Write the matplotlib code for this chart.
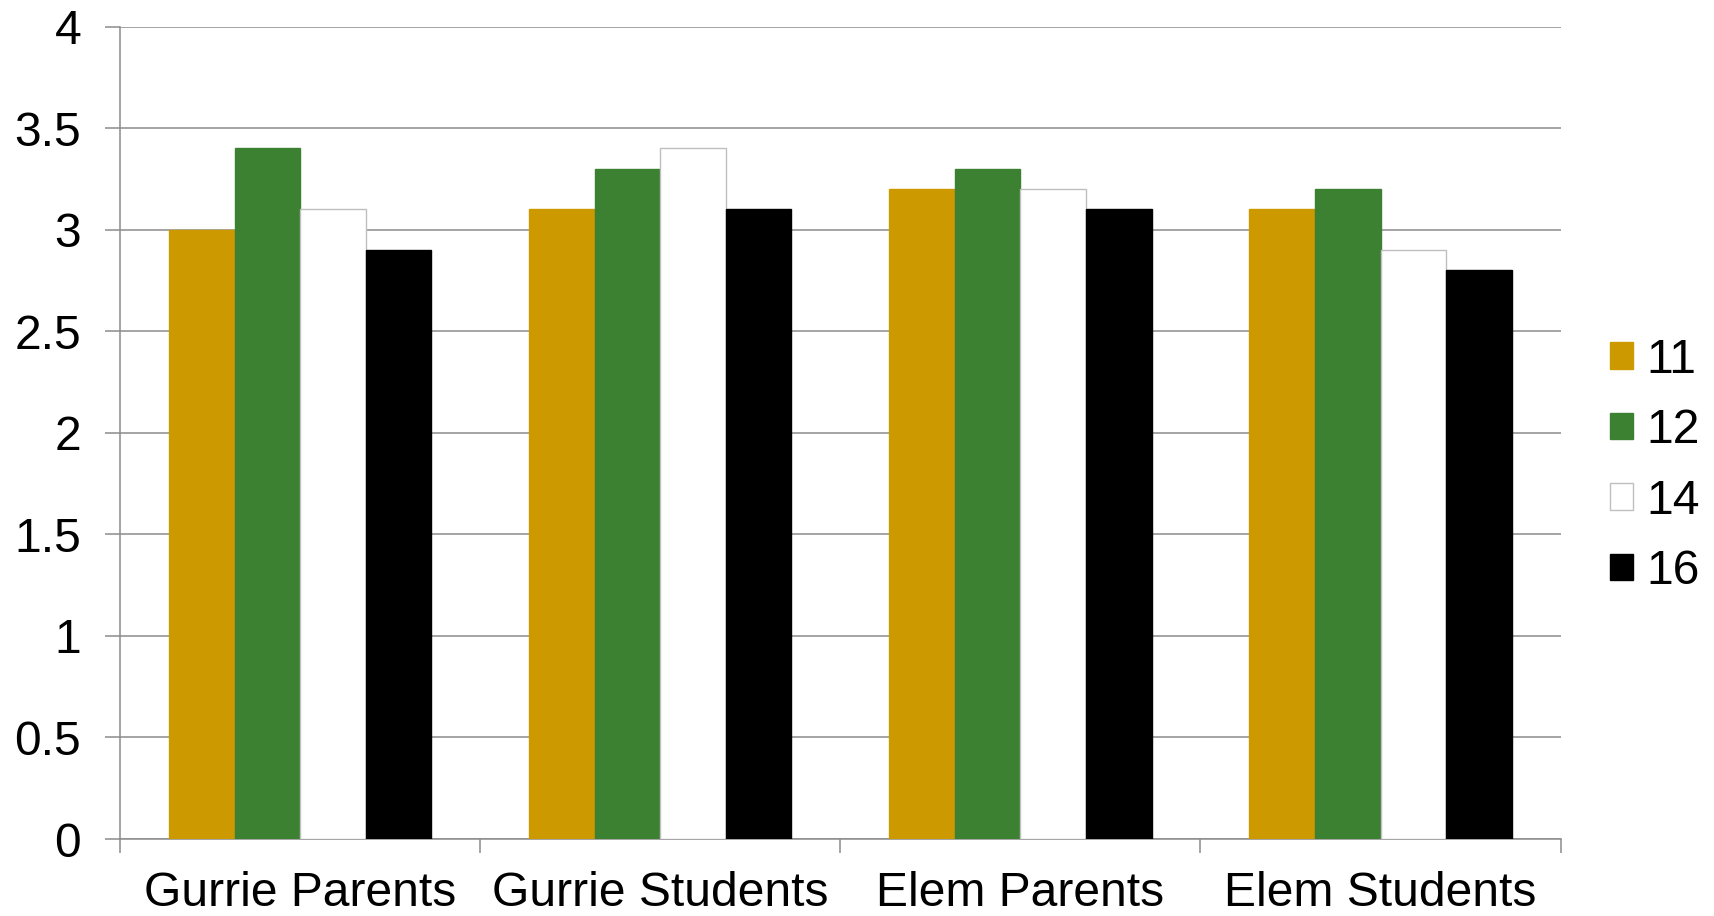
import matplotlib
matplotlib.use("Agg")
import matplotlib.pyplot as plt
import numpy as np

categories = ["Gurrie Parents", "Gurrie Students", "Elem Parents", "Elem Students"]
series_names = ["11", "12", "14", "16"]
values_11 = [3.0, 3.1, 3.2, 3.1]
values_12 = [3.4, 3.3, 3.3, 3.2]
values_14 = [3.1, 3.4, 3.2, 2.9]
values_16 = [2.9, 3.1, 3.1, 2.8]
y_ticks = [0, 0.5, 1, 1.5, 2, 2.5, 3, 3.5, 4]
y_tick_labels = ["0", "0.5", "1", "1.5", "2", "2.5", "3", "3.5", "4"]

series_values = [values_11, values_12, values_14, values_16]
colors = ["#CC9900", "#3C8032", "#FFFFFF", "#000000"]
edges = ["#CC9900", "#3C8032", "#BFBFBF", "#000000"]

plt.rcParams["font.family"] = ["Liberation Sans", "DejaVu Sans"]
FS = 34.6
GRID = "#8C8C8C"

fig = plt.figure(figsize=(17.15, 9.16), dpi=100)
ax = fig.add_axes([0.070, 0.084, 0.840, 0.887])

x = np.arange(len(categories))
w = 0.182
offsets = (np.arange(len(series_names)) - 1.5) * w
handles = []
for vals, off, c, ec, name in zip(series_values, offsets, colors, edges, series_names):
    b = ax.bar(x + off, vals, width=w, color=c, edgecolor=ec, linewidth=1.0,
               label=name, zorder=3)
    handles.append(b)

ax.set_xlim(-0.5, len(categories) - 0.5)
ax.set_ylim(0, 4)
ax.set_yticks(y_ticks)
ax.set_yticklabels(y_tick_labels, fontsize=FS)
ax.yaxis.grid(True, color=GRID, linewidth=1.1, zorder=0)
ax.set_axisbelow(True)

# category boundaries as major ticks, labels on minor ticks at centres
ax.set_xticks(np.arange(-0.5, len(categories), 1.0))
ax.set_xticklabels([])
ax.set_xticks(x, minor=True)
ax.set_xticklabels(categories, minor=True, fontsize=FS)
ax.tick_params(axis="x", which="major", length=10, width=1.1, color=GRID)
ax.tick_params(axis="x", which="minor", length=0, pad=23)
ax.tick_params(axis="y", length=11, width=1.1, color=GRID, pad=17)

for s in ["top", "right"]:
    ax.spines[s].set_visible(False)
for s in ["left", "bottom"]:
    ax.spines[s].set_color(GRID)
    ax.spines[s].set_linewidth(1.1)

fig.legend(handles=handles, labels=series_names, loc="center left",
           bbox_to_anchor=(0.939, 0.4915), frameon=False, fontsize=FS,
           handlelength=0.48, handleheight=0.48, handletextpad=0.26,
           labelspacing=0.53, borderpad=0, borderaxespad=0)

fig.savefig("out.png", dpi=100)
